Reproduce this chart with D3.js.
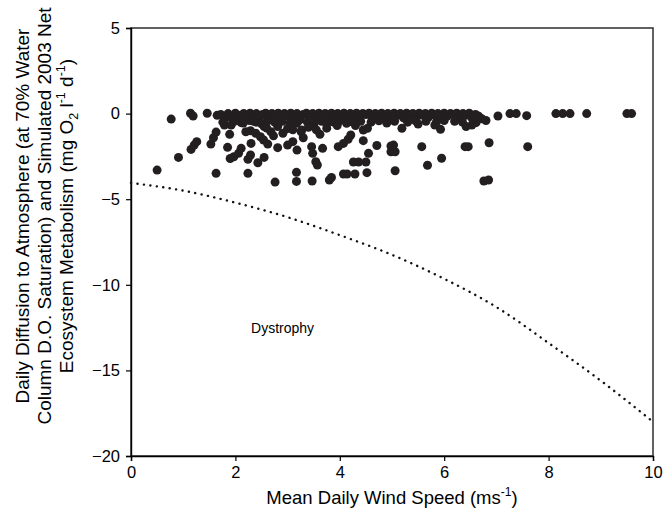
<!DOCTYPE html>
<html><head><meta charset="utf-8">
<script src="https://cdn.jsdelivr.net/npm/d3@7"></script>
<style>body{margin:0;background:#fff}svg{display:block}text{font-family:"Liberation Sans",Arial,sans-serif;fill:#000}</style>
</head><body>
<svg id="c" width="665" height="515"></svg>
<script>
const xTicks = [0, 2, 4, 6, 8, 10];
const yTicks = [5, 0, -5, -10, -15, -20];
// observed daily diffusion [wind speed, value]
const observations = [
[0.77,-0.32],[1.14,0.02],[1.19,-0.14],[1.46,0.02],[1.65,-0.1],[0.50,-3.30],[0.91,-2.56],[1.15,-2.09],[1.21,-1.84],[1.26,-1.64],
[1.53,-1.78],[1.58,-1.41],[1.63,-1.08],[1.63,-3.49],[1.79,-0.67],[1.89,-1.21],[1.85,-1.97],[1.90,-2.62],[1.97,-2.52],[2.06,-2.32],
[2.11,-2.03],[2.24,-3.49],[2.24,-2.67],[2.29,-2.42],[2.30,-1.74],[2.43,-2.87],[2.55,-2.56],[2.20,-1.06],[2.29,-1.0],[2.39,-1.15],
[2.48,-1.35],[2.54,-1.54],[2.62,-1.78],[2.81,-1.99],[3.0,-1.84],[3.18,-2.13],[3.10,-1.64],[2.76,-4.0],[3.17,-3.43],[3.17,-3.96],
[3.26,-1.06],[3.30,-1.41],[3.47,-3.94],[3.80,-3.88],[3.84,-3.73],[4.07,-3.53],[4.14,-3.53],[4.29,-3.53],[4.52,-3.45],[5.06,-3.34],
[4.26,-2.83],[4.36,-2.83],[4.50,-2.83],[3.54,-2.81],[3.57,-3.0],[3.48,-2.32],[3.46,-1.93],[3.67,-2.03],[3.97,-1.93],[4.07,-1.74],
[4.16,-1.5],[4.21,-1.25],[4.55,-2.32],[4.71,-1.86],[4.98,-1.89],[4.98,-2.23],[4.45,-1.58],[3.62,-1.21],[4.13,-0.57],[4.45,-0.96],
[4.53,-0.86],[5.19,-0.86],[5.50,-0.61],[5.82,-0.67],[5.93,-0.92],[6.42,-0.76],[6.53,-0.67],[6.61,-0.53],[5.03,-1.84],[5.06,-2.23],
[5.57,-1.93],[6.40,-1.93],[6.46,-1.93],[6.86,-1.70],[7.60,-1.93],[5.68,-3.02],[5.95,-2.61],[6.76,-3.94],[6.85,-3.88],[7.03,-0.14],
[7.26,0.0],[7.38,0.0],[7.58,-0.12],[8.14,0.0],[8.27,0.0],[8.41,0.0],[8.73,0.0],[9.50,0.0],[9.59,0.0],
[1.92,-0.67],[2.11,-0.53],[2.27,-0.4],[2.40,-0.5],[2.55,-0.76],[2.68,-1.06],[2.81,-0.76],[2.91,-1.15],[3.0,-0.87],[3.17,-0.57],[3.27,-0.96],[2.73,-1.3],
[1.72,-0.05],[1.80,-0.3],[1.86,0.0],[1.93,-0.2],[2.0,0.02],[2.05,-0.35],[2.1,-0.1],[2.16,0.0],[2.22,-0.25],[2.28,0.02],
[2.33,-0.15],[2.4,0.0],[2.46,-0.3],[2.52,-0.05],[2.58,0.02],[2.64,-0.2],[2.7,0.0],[2.76,-0.1],[2.82,0.02],[2.88,-0.28],
[2.94,0.0],[3.0,-0.12],[3.06,0.02],[3.12,-0.2],[3.18,0.0],[3.24,-0.35],[3.3,-0.05],[3.36,0.02],[3.42,-0.18],[3.48,0.0],
[3.54,-0.3],[3.6,0.02],[3.66,-0.1],[3.72,0.0],[3.78,-0.25],[3.84,0.02],[3.9,-0.08],[3.96,0.0],[4.02,-0.2],[4.08,0.02],
[4.14,-0.3],[4.2,0.0],[4.26,-0.12],[4.32,0.02],[4.38,-0.22],[4.44,0.0],[4.5,-0.05],[4.56,0.02],[4.62,-0.28],[4.68,0.0],
[4.74,-0.1],[4.8,0.02],[4.86,-0.2],[4.92,0.0],[4.98,-0.35],[5.04,0.02],[5.1,-0.1],[5.16,0.0],[5.22,-0.25],[5.28,0.02],
[5.34,-0.12],[5.4,0.0],[5.46,-0.3],[5.52,0.02],[5.58,-0.08],[5.64,0.0],[5.7,-0.2],[5.76,0.02],[5.82,-0.1],[5.88,0.0],
[5.94,-0.3],[6.0,0.02],[6.06,-0.15],[6.12,0.0],[6.18,-0.05],[6.24,0.02],[6.3,-0.22],[6.36,0.0],[6.42,-0.1],[6.48,0.02],
[6.54,-0.3],[6.6,-0.05],[6.66,-0.15],[6.72,-0.3],[6.8,-0.4],
[1.76,-0.5],[1.98,-0.45],[2.15,-0.55],[2.35,-0.45],[2.5,-0.6],[2.62,-0.42],[2.75,-0.5],[2.9,-0.45],[3.05,-0.55],[3.2,-0.45],
[3.38,-0.5],[3.5,-0.62],[3.65,-0.45],[3.75,-0.6],[3.88,-0.5],[4.0,-0.42],[4.25,-0.5],[4.4,-0.45],[4.6,-0.5],[4.75,-0.42],
[4.9,-0.55],[5.05,-0.45],[5.3,-0.5],[5.45,-0.42],[5.65,-0.45],[5.85,-0.5],[6.0,-0.4],[6.2,-0.45],[6.35,-0.5],
[3.4,-0.8],[3.75,-0.85],[3.95,-0.7],[2.6,-0.85],[3.1,-0.95],[4.3,-0.7],[3.55,-0.95]
];
// simulated net ecosystem metabolism threshold curve
const curveWind = [0,1,2,3,4,5,6,7,8,9,10];
const curveValue = [-4.05,-4.5,-5.2,-6.05,-7.1,-8.25,-9.65,-11.3,-13.4,-15.6,-18.0];
const regionLabel = "Dystrophy";

const svg = d3.select("#c");
const L = 131, R = 653, T = 28, B = 456;
const x = d3.scaleLinear().domain([0, 10]).range([L, R]);
const y = d3.scaleLinear().domain([-20, 5]).range([B, T]);

// frame
svg.append("rect").attr("x", L).attr("y", T).attr("width", R - L).attr("height", B - T)
  .attr("fill", "none").attr("stroke", "#3a3a3a").attr("stroke-width", 1.6);

const ya = svg.append("g").attr("transform", `translate(${L},0)`)
  .call(d3.axisLeft(y).tickValues(yTicks).tickSize(5).tickPadding(6).tickFormat(d3.format("d")));
const xa = svg.append("g").attr("transform", `translate(0,${B})`)
  .call(d3.axisBottom(x).tickValues(xTicks).tickSize(5).tickPadding(5).tickFormat(d3.format("d")));
[ya, xa].forEach(g => {
  g.select(".domain").attr("stroke", "#000").attr("stroke-width", 1.4);
  g.selectAll(".tick line").attr("stroke", "#000").attr("stroke-width", 1.2);
  g.selectAll(".tick text").style("font-size", "16.5px").style("font-family", '"Liberation Sans",Arial,sans-serif').attr("fill", "#000");
});

// dotted curve
const pts = curveWind.map((w, i) => [w, curveValue[i]]);
svg.append("path").datum(pts)
  .attr("d", d3.line().x(d => x(d[0])).y(d => y(d[1])).curve(d3.curveMonotoneX))
  .attr("fill", "none").attr("stroke", "#111").attr("stroke-width", 2.4)
  .attr("stroke-linecap", "round").attr("stroke-dasharray", "0.1,6.4");

// scatter
svg.append("g").selectAll("circle").data(observations).join("circle")
  .attr("cx", d => x(d[0])).attr("cy", d => y(d[1])).attr("r", 4.5)
  .attr("fill", "#231f20");

// region label
svg.append("text").attr("x", x(2.3)).attr("y", y(-12.8)).style("font-size", "14px").text(regionLabel);

// x title
const xt = svg.append("text").attr("x", (L + R) / 2).attr("y", 504).attr("text-anchor", "middle").style("font-size", "18.5px");
xt.append("tspan").text("Mean Daily Wind Speed (ms");
xt.append("tspan").attr("dy", -8).style("font-size", "12px").text("-1");
xt.append("tspan").attr("dy", 8).text(")");

// y title (3 lines)
const yt = svg.append("g").attr("transform", "translate(0,216) rotate(-90)");
const lines = [
  {dx: 29, parts: [["Daily Diffusion to Atmosphere (at 70% Water", 0]]},
  {dx: 51, parts: [["Column D.O. Saturation) and Simulated 2003 Net", 0]]},
  {dx: 73, parts: [["Ecosystem Metabolism (mg O", 0], ["2", 5], [" l", -5], ["-1", -8], [" d", 8], ["-1", -8], [")", 8]]}
];
lines.forEach(ln => {
  const t = yt.append("text").attr("x", 0).attr("y", ln.dx).attr("text-anchor", "middle").style("font-size", "19px");
  ln.parts.forEach(([s, dy], i) => {
    const sp = t.append("tspan").text(s);
    if (i > 0) sp.attr("dy", dy);
    if (s === "2" || s === "-1") sp.style("font-size", "12.5px");
  });
});
</script>
</body></html>
